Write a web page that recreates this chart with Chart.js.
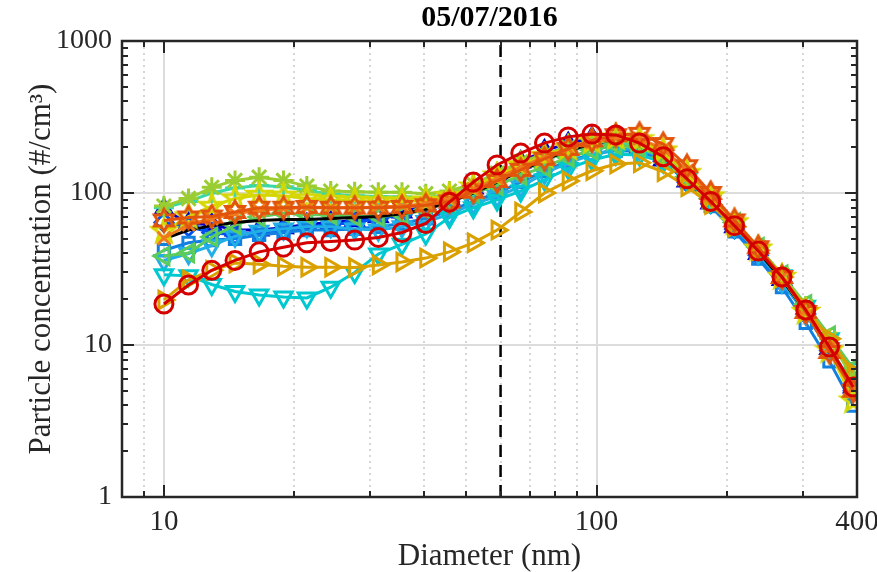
<!DOCTYPE html>
<html>
<head>
<meta charset="utf-8">
<title>05/07/2016 particle size distribution</title>
<script src="https://cdn.jsdelivr.net/npm/chart.js@4.4.1/dist/chart.umd.min.js"></script>
<style>
  html, body { margin: 0; padding: 0; background: #fff; }
  #wrap { width: 877px; height: 572px; position: relative; }
</style>
</head>
<body>
<div id="wrap"><canvas id="psdChart"></canvas></div>
<script>
// size bins (nm)
var diameters = [10, 11.4, 12.9, 14.6, 16.6, 18.9, 21.4, 24.3, 27.6, 31.3, 35.5, 40.3, 45.7, 51.9, 58.9,
                 66.8, 75.8, 86.0, 97.6, 110.8, 125.7, 142.6, 161.8, 183.6, 208.4, 236.5, 268.3, 304.5, 345.5, 392];

// concentrations (#/cm3), one list per scan
var redCircle   = [18.6, 24.8, 31, 36, 41, 44, 47, 48, 49, 51, 55, 63, 87, 118, 153, 183, 213, 234, 244, 241, 213, 173, 124, 88, 61, 41.5, 28, 17, 9.7, 5.3];
var orangeHex   = [66, 69, 70, 75, 80, 80, 81, 80, 80, 80, 81, 83, 88, 102, 120, 142, 168, 195, 222, 240, 245, 210, 150, 100, 66, 44, 28, 16.5, 9, 5];
var orangeX     = [50.5, 62, 68, 73, 77, 79, 80, 80, 80, 81, 82, 85, 92, 106, 125, 148, 172, 196, 216, 230, 228, 195, 140, 97, 65, 43, 28, 17, 9.6, 5.2];
var goldRight   = [19.8, 26.8, 31, 34.6, 34, 33, 32.5, 32.5, 32.3, 33.6, 35.2, 37.3, 41, 47, 57, 75, 100, 120, 140, 155, 158, 138, 110, 84, 60, 42, 28, 17.5, 11, 6.6];
var yellowPent  = [56, 70, 82, 92, 97, 96, 92, 90, 89, 88, 88, 89, 95, 110, 130, 152, 175, 198, 218, 232, 225, 190, 135, 95, 64, 43, 28, 16.5, 9.2, 4.3];
var limeStar    = [82, 92, 109, 121, 127, 121, 111, 103, 102, 101, 101, 99, 103, 115, 135, 160, 180, 200, 215, 222, 212, 180, 130, 93, 64, 44, 29, 18, 11, 6];
var greenLeft   = [38.5, 40.3, 51.4, 61.5, 69.5, 73.8, 72, 72, 70, 70, 72, 78, 88, 100, 112, 131, 148, 172, 191, 207, 200, 172, 128, 92, 64, 44, 29, 18.5, 11.5, 7];
var tealPlus    = [80, 88, 100, 108, 112, 110, 104, 98, 96, 95, 94, 93, 98, 110, 128, 150, 170, 190, 205, 212, 205, 175, 128, 92, 63, 43, 29, 18, 11, 6.5];
var cyanDown    = [29, 28.5, 25, 22.5, 21.3, 20.7, 20.4, 24, 30, 39.7, 46, 53.7, 69, 80, 90, 103, 122, 145, 165, 180, 178, 160, 122, 88, 62, 42, 28.5, 18, 11, 7];
var skyDown     = [36, 40, 45, 52, 56, 58, 60, 60, 58, 57, 60, 65, 72, 85, 95, 110, 135, 158, 178, 195, 195, 170, 125, 88, 60, 40, 26, 16, 9.5, 5.5];
var azureSquare = [42, 47, 49, 50, 53, 55, 57, 57, 58, 60, 63, 68, 76, 88, 100, 118, 140, 162, 180, 190, 188, 165, 118, 82, 56, 37, 24, 14, 7.8, 4.0];
var blueDiamond = [64, 60, 55, 53, 55, 57, 60, 62, 64, 68, 72, 78, 88, 104, 125, 150, 178, 200, 218, 220, 198, 162, 118, 85, 58, 39, 26, 16, 9.2, 5.0];
var navyUp      = [78, 63, 62, 57, 57, 59, 62, 64, 66, 70, 75, 82, 92, 108, 132, 160, 190, 212, 230, 228, 200, 165, 120, 86, 60, 40, 27, 16.5, 9.5, 5.3];
var meanLine    = [50, 57, 61, 64, 66, 67, 67, 68, 69, 70, 73, 78, 87, 100, 118, 140, 165, 190, 210, 225, 220, 190, 140, 95, 62, 41, 27, 16.5, 9.5, 5.2];

// dashed marker at 60 nm
var cutoffX = [60, 60];
var cutoffY = [1, 1000];

var xLabelTicks = [10, 100, 400];
var yLabelTicks = [1, 10, 100, 1000];
var xMinorGrid = [9, 20, 30, 40, 50, 60, 70, 80, 90, 200, 300];

var serif = "'Liberation Serif', 'Times New Roman', serif";
var axisColor = '#262626';

function toPoints(xs, ys) {
    return xs.map(function(x, i) { return {x: x, y: ys[i]}; });
}

// star shaped markers (pentagram / hexagram), drawn hollow like matlab
function starMarker(tips, color, r, inner) {
    var lw = 3;
    var size = Math.ceil(2 * r + 2 * lw);
    var cv = document.createElement('canvas');
    cv.width = size; cv.height = size;
    var c = cv.getContext('2d');
    c.translate(size / 2, size / 2);
    c.beginPath();
    for (var i = 0; i < tips * 2; i++) {
        var rad = (i % 2 === 0) ? r : r * inner;
        var ang = -Math.PI / 2 + i * Math.PI / tips;
        var px = rad * Math.cos(ang), py = rad * Math.sin(ang);
        if (i === 0) c.moveTo(px, py); else c.lineTo(px, py);
    }
    c.closePath();
    c.strokeStyle = color;
    c.lineWidth = lw;
    c.lineJoin = 'miter';
    c.stroke();
    return cv;
}

function series(label, values, color, style, opts) {
    var ds = {
        label: label,
        data: toPoints(diameters, values),
        showLine: true,
        borderColor: color,
        borderWidth: 3,
        pointStyle: style,
        pointRadius: 9,
        pointBorderColor: color,
        pointBackgroundColor: 'rgba(0,0,0,0)',
        pointBorderWidth: 3
    };
    for (var k in opts) ds[k] = opts[k];
    return ds;
}

var axesBox = {
    id: 'axesBox',
    beforeDatasetsDraw: function(chart) {
        var a = chart.chartArea, xs = chart.scales.x, ys = chart.scales.y, c = chart.ctx;
        c.save();
        c.strokeStyle = '#c9c9c9';
        c.lineWidth = 1.5;
        c.setLineDash([2, 4]);
        xMinorGrid.forEach(function(v) {
            var px = Math.round(xs.getPixelForValue(v));
            c.beginPath(); c.moveTo(px, a.top); c.lineTo(px, a.bottom); c.stroke();
        });
        c.setLineDash([]);
        c.strokeStyle = '#dcdcdc';
        c.lineWidth = 2;
        [10, 100].forEach(function(v) {
            var px = Math.round(xs.getPixelForValue(v));
            c.beginPath(); c.moveTo(px, a.top); c.lineTo(px, a.bottom); c.stroke();
            var py = Math.round(ys.getPixelForValue(v));
            c.beginPath(); c.moveTo(a.left, py); c.lineTo(a.right, py); c.stroke();
        });
        c.restore();
    },
    afterDatasetsDraw: function(chart) {
        var a = chart.chartArea, xs = chart.scales.x, ys = chart.scales.y, c = chart.ctx;
        c.save();
        c.strokeStyle = axisColor;
        c.lineWidth = 2.5;
        c.strokeRect(a.left, a.top, a.right - a.left, a.bottom - a.top);
        c.lineWidth = 2;
        function hTick(py, len) {
            c.beginPath(); c.moveTo(a.left, py); c.lineTo(a.left + len, py);
            c.moveTo(a.right, py); c.lineTo(a.right - len, py); c.stroke();
        }
        function vTick(px, len) {
            c.beginPath(); c.moveTo(px, a.bottom); c.lineTo(px, a.bottom - len);
            c.moveTo(px, a.top); c.lineTo(px, a.top + len); c.stroke();
        }
        for (var dec = 1; dec < 1000; dec *= 10) {
            hTick(Math.round(ys.getPixelForValue(dec)), 12);
            for (var m = 2; m < 10; m++) hTick(Math.round(ys.getPixelForValue(dec * m)), 6);
        }
        xLabelTicks.forEach(function(v) { vTick(Math.round(xs.getPixelForValue(v)), 12); });
        xMinorGrid.forEach(function(v) { vTick(Math.round(xs.getPixelForValue(v)), 6); });
        c.restore();
    }
};

var ctx = document.getElementById('psdChart').getContext('2d');
var psdChart = new Chart(ctx, {
    type: 'scatter',
    data: {
        datasets: [
            series('Scan 13', redCircle, '#d40000', 'circle', {}),
            series('Scan 12', orangeHex, '#e2540c', starMarker(6, '#e2540c', 11, 0.58), {}),
            series('Scan 11', orangeX, '#ee7a1c', 'crossRot', {}),
            series('Scan 10', goldRight, '#d9a000', 'triangle', {pointRotation: 90, pointRadius: 10}),
            series('Scan 9', yellowPent, '#d6d600', starMarker(5, '#d6d600', 12, 0.4), {}),
            series('Scan 8', limeStar, '#9acd32', 'star', {pointRadius: 10}),
            series('Mean', meanLine, '#000000', 'circle', {pointRadius: 0}),
            series('Scan 7', greenLeft, '#5ccc5c', 'triangle', {pointRotation: 270, pointRadius: 10}),
            series('Scan 6', tealPlus, '#3ad8a8', 'cross', {pointRadius: 10}),
            series('Scan 5', cyanDown, '#00c8d0', 'triangle', {pointRotation: 180, pointRadius: 10}),
            series('Scan 4', skyDown, '#22aee6', 'triangle', {pointRotation: 180, pointRadius: 10}),
            series('Scan 3', azureSquare, '#1280e0', 'rect', {pointRadius: 8}),
            series('Scan 2', blueDiamond, '#0050f0', 'rectRot', {}),
            series('Scan 1', navyUp, '#0000c8', 'triangle', {pointRadius: 10}),
            {
                label: 'cutoff',
                data: toPoints(cutoffX, cutoffY),
                showLine: true,
                borderColor: '#000',
                borderWidth: 2.5,
                borderDash: [12, 8],
                pointRadius: 0
            }
        ]
    },
    options: {
        responsive: true,
        maintainAspectRatio: false,
        animation: false,
        events: [],
        layout: { padding: { left: 0, right: 20, top: 0, bottom: 0 } },
        plugins: {
            legend: { display: false },
            tooltip: { enabled: false },
            title: {
                display: true,
                text: '05/07/2016',
                fullSize: false,
                color: '#000',
                font: { family: serif, size: 30, weight: 'bold' },
                padding: { top: 0, bottom: 5 }
            }
        },
        scales: {
            x: {
                type: 'logarithmic',
                min: 8,
                max: 400,
                grid: { display: false, drawTicks: false },
                border: { display: false },
                afterBuildTicks: function(scale) {
                    scale.ticks = xLabelTicks.map(function(v) { return {value: v}; });
                },
                afterFit: function(scale) {
                    scale.height = 75;
                    scale.paddingLeft = 0;
                    scale.paddingRight = 0;
                },
                ticks: {
                    autoSkip: false,
                    maxRotation: 0,
                    padding: 8,
                    color: '#262626',
                    font: { family: serif, size: 29 },
                    callback: function(v) { return String(v); }
                },
                title: {
                    display: true,
                    text: 'Diameter (nm)',
                    color: '#262626',
                    font: { family: serif, size: 31, lineHeight: 1 },
                    padding: { top: 0, bottom: 0 }
                }
            },
            y: {
                type: 'logarithmic',
                min: 1,
                max: 1000,
                grid: { display: false, drawTicks: false },
                border: { display: false },
                afterBuildTicks: function(scale) {
                    scale.ticks = yLabelTicks.map(function(v) { return {value: v}; });
                },
                afterFit: function(scale) {
                    scale.width = 122;
                    scale.paddingTop = 0;
                    scale.paddingBottom = 0;
                },
                ticks: {
                    autoSkip: false,
                    padding: 10,
                    color: '#262626',
                    font: { family: serif, size: 28 },
                    callback: function(v) { return String(v); }
                },
                title: {
                    display: true,
                    text: 'Particle concentration (#/cm\u00b3)',
                    color: '#262626',
                    font: { family: serif, size: 31, lineHeight: 1 },
                    padding: { top: 26, bottom: 0 }
                }
            }
        }
    },
    plugins: [axesBox]
});
</script>
</body>
</html>
